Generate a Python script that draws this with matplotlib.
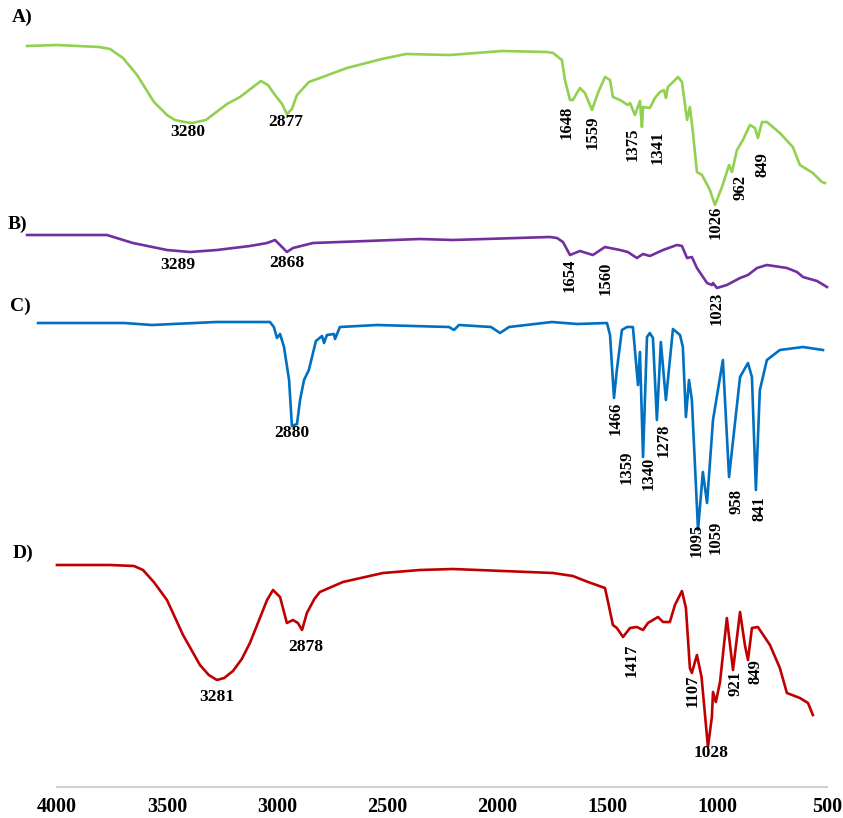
# ==========================================================
# FTIR spectra A-D, stacked, wavenumber axis reversed
# ==========================================================
import matplotlib
matplotlib.use('Agg')
import matplotlib.pyplot as plt

# ==========================================================
# Data (wavenumber, stacked transmittance)
# ==========================================================
wn_A = [4136, 4000, 3809, 3759, 3700, 3636, 3559, 3500, 3464, 3420, 3386, 3323,
        3227, 3168, 3073, 3041, 3009, 2977, 2955, 2932, 2909, 2855, 2805, 2682,
        2523, 2414, 2214, 1977, 1773, 1745, 1705, 1691, 1668, 1655, 1623, 1600,
        1568, 1541, 1509, 1486, 1473, 1441, 1405, 1395, 1373, 1350, 1341, 1336,
        1305, 1282, 1259, 1241, 1232, 1223, 1200, 1177, 1159, 1136, 1123, 1109,
        1091, 1068, 1032, 1009, 977, 955, 945, 932, 909, 882, 850, 827, 814, 795,
        773, 714, 655, 623, 564, 523, 509]
tr_A = [741, 742, 740, 738, 729, 712, 685, 672, 667, 665, 664, 667,
        683, 690, 706, 702, 692, 683, 673, 678, 692, 705, 709, 719,
        728, 733, 732, 736, 735, 734, 727, 707, 687, 687, 699, 694,
        677, 694, 710, 707, 690, 687, 682, 684, 672, 686, 660, 680,
        679, 689, 695, 697, 689, 700, 705, 710, 705, 667, 680, 654,
        615, 612, 597, 582, 600, 615, 622, 615, 637, 647, 662, 659, 649, 665,
        665, 654, 640, 622, 614, 605, 604]

wn_B = [4136, 3773, 3655, 3500, 3395, 3273, 3123, 3045, 3009, 2977, 2955, 2927,
        2836, 2591, 2350, 2200, 1759, 1727, 1700, 1668, 1623, 1564, 1509, 1441,
        1405, 1364, 1336, 1305, 1245, 1182, 1159, 1136, 1114, 1091, 1045, 1023,
        1018, 1000, 955, 895, 859, 818, 773, 682, 636, 609, 545, 500]
tr_B = [552, 552, 544, 537, 535, 537, 541, 544, 547, 540, 535, 539,
        544, 546, 548, 547, 550, 549, 545, 532, 536, 532, 540, 537,
        535, 529, 533, 531, 537, 542, 541, 529, 530, 519, 504, 502,
        504, 499, 502, 509, 512, 519, 522, 519, 515, 510, 506, 500]

wn_C = [4086, 3695, 3568, 3277, 3032, 3014, 3000, 2986, 2968, 2945, 2932, 2909,
        2895, 2877, 2855, 2823, 2795, 2786, 2773, 2741, 2736, 2714, 2545, 2218,
        2195, 2173, 2027, 1986, 1945, 1750, 1636, 1500, 1486, 1468, 1455, 1432,
        1409, 1382, 1359, 1350, 1336, 1318, 1305, 1291, 1273, 1255, 1232, 1200,
        1168, 1155, 1141, 1127, 1114, 1086, 1064, 1045, 1018, 973, 945, 895,
        859, 841, 823, 805, 773, 714, 609, 518]
tr_C = [464, 464, 462, 465, 465, 460, 449, 453, 440, 407, 361, 363,
        387, 407, 417, 446, 451, 444, 452, 453, 448, 460, 462, 460,
        457, 462, 460, 454, 460, 465, 463, 464, 452, 389, 417, 457,
        460, 460, 402, 435, 330, 450, 454, 449, 367, 445, 387, 458,
        452, 440, 370, 407, 387, 257, 315, 284, 367, 427, 310, 410,
        424, 410, 297, 397, 427, 437, 440, 437]

wn_D = [4000, 3759, 3650, 3609, 3560, 3500, 3427, 3350, 3310, 3273, 3240, 3200,
        3160, 3123, 3045, 3018, 2986, 2955, 2927, 2905, 2886, 2864, 2830, 2805,
        2700, 2518, 2350, 2200, 1745, 1655, 1586, 1509, 1495, 1473, 1455, 1427,
        1395, 1364, 1336, 1314, 1268, 1245, 1214, 1191, 1159, 1141, 1123, 1114,
        1091, 1070, 1041, 1023, 1018, 1005, 986, 955, 927, 895, 873, 859, 841,
        814, 759, 714, 682, 623, 586, 564]
tr_D = [222, 222, 221, 217, 205, 187, 152, 122, 112, 107, 109, 116,
        128, 144, 187, 197, 190, 164, 167, 164, 157, 174, 188, 195,
        205, 214, 217, 218, 214, 211, 205, 199, 185, 162, 159, 150,
        159, 160, 157, 164, 170, 165, 165, 182, 196, 179, 119, 114,
        132, 110, 40, 70, 95, 85, 105, 169, 117, 175, 142, 127, 159,
        160, 142, 119, 94, 89, 84, 72]

# ==========================================================
# Peak labels and panel letters
# ==========================================================
peak_txt_A = ['1648', '1559', '1375', '1341', '1026', '962', '849']
peak_wn_A = [1682, 1564, 1382, 1268, 1005, 895, 791]
peak_y_A = [665, 655, 643, 640, 565, 600, 622]

peak_txt_B = ['1654', '1560', '1023']
peak_wn_B = [1668, 1505, 1000]
peak_y_B = [512, 509, 479]

peak_txt_C = ['1466', '1359', '1340', '1278', '1095', '1059', '958', '841']
peak_wn_C = [1459, 1409, 1309, 1241, 1092, 1005, 909, 805]
peak_y_C = [369, 320, 314, 347, 247, 250, 286, 278]

peak_txt_D = ['1417', '1107', '921', '849']
peak_wn_D = [1386, 1109, 914, 827]
peak_y_D = [127, 96, 104, 115]

# horizontal labels (O-H / C-H bands)
flat_txt = ['3280', '2877', '3289', '2868', '2880', '3281', '2878', '1028']
flat_wn = [3405, 2959, 3450, 2955, 2932, 3273, 2868, 1027]
flat_y = [655, 665, 522, 524, 354, 90, 140, 34]

panel_txt = ['A)', 'B)', 'C)', 'D)']
panel_wn = [4205, 4223, 4214, 4200]
panel_y = [770, 563, 481, 234]

ticks = [4000, 3500, 3000, 2500, 2000, 1500, 1000, 500]

# ==========================================================
# PLOT
# ==========================================================
fig = plt.figure(figsize=(8.43, 8.18), dpi=100)
ax = fig.add_axes([0, 31 / 818, 1, 787 / 818])

fonte = dict(family='Liberation Serif', weight='bold', color='black')

ax.plot(wn_A, tr_A, color='#92D050', lw=1.9, solid_joinstyle='round')
ax.plot(wn_B, tr_B, color='#7030A0', lw=1.9, solid_joinstyle='round')
ax.plot(wn_C, tr_C, color='#0070C0', lw=1.9, solid_joinstyle='round')
ax.plot(wn_D, tr_D, color='#C00000', lw=1.9, solid_joinstyle='round')

for txts, wns, ys in [(peak_txt_A, peak_wn_A, peak_y_A),
                      (peak_txt_B, peak_wn_B, peak_y_B),
                      (peak_txt_C, peak_wn_C, peak_y_C),
                      (peak_txt_D, peak_wn_D, peak_y_D)]:
    for t, w, y in zip(txts, wns, ys):
        ax.text(w, y, t, rotation=90, ha='center', va='center', fontsize=12, **fonte)

for t, w, y in zip(flat_txt, flat_wn, flat_y):
    ax.text(w, y, t, ha='center', va='center', fontsize=12.5, **fonte)

for t, w, y in zip(panel_txt, panel_wn, panel_y):
    ax.text(w, y, t, ha='left', va='center', fontsize=14, **fonte)

ax.set_xlim(4259, 427)
ax.set_ylim(0, 787)

for s in ['top', 'right', 'left']:
    ax.spines[s].set_visible(False)
ax.spines['bottom'].set_color('#d0d0d0')
ax.spines['bottom'].set_linewidth(1.5)
ax.spines['bottom'].set_bounds(500, 4000)

ax.set_yticks([])
ax.set_xticks(ticks)
ax.set_xticklabels([str(t) for t in ticks])
ax.tick_params(axis='x', length=0, pad=7.5)
for lab in ax.get_xticklabels():
    lab.set_fontfamily('Liberation Serif')
    lab.set_fontweight('bold')
    lab.set_fontsize(14.5)

fig.savefig('out.png', dpi=100, facecolor='white')
